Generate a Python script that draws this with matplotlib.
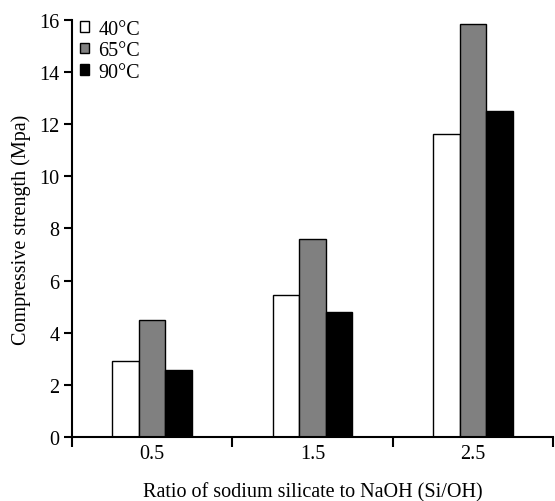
import matplotlib
matplotlib.use("Agg")
import matplotlib.pyplot as plt
import numpy as np

plt.rcParams["font.family"] = ["Liberation Serif", "DejaVu Serif"]

ratios = ["0.5", "1.5", "2.5"]
temps = ["40°C", "65°C", "90°C"]
strength_40 = [2.92, 5.45, 11.63]
strength_65 = [4.5, 7.6, 15.85]
strength_90 = [2.57, 4.8, 12.5]
colors = ["white", "#808080", "black"]

fs = 14.5

fig = plt.figure(figsize=(5.55, 5.02), dpi=100)
ax = fig.add_axes([0.1297, 0.1275, 0.8667, 0.8307])

x = np.arange(len(ratios))
width = 0.166
for i, (vals, lab, col) in enumerate(zip([strength_40, strength_65, strength_90], temps, colors)):
    ax.bar(x + (i - 1) * width, vals, width, color=col, edgecolor="black",
           linewidth=1.0, label=lab)

ax.set_xlim(-0.5, 2.5)
ax.set_ylim(0, 16)
ax.set_yticks(np.arange(0, 17, 2))
ax.set_xticks([-0.5, 0.5, 1.5, 2.5])
ax.set_xticklabels([])
ax.set_xticks(x, minor=True)
ax.set_xticklabels(ratios, minor=True)
ax.tick_params(axis="x", which="major", direction="out", length=7, width=1.5)
ax.tick_params(axis="x", which="minor", length=0, pad=5, labelsize=fs)
ax.tick_params(axis="y", direction="out", length=6, width=1.5, labelsize=fs, pad=3)

for side in ["top", "right"]:
    ax.spines[side].set_visible(False)
for side in ["left", "bottom"]:
    ax.spines[side].set_linewidth(1.5)

ax.set_xlabel("Ratio of sodium silicate to NaOH (Si/OH)", fontsize=fs, labelpad=14)
ax.set_ylabel("Compressive strength (Mpa)", fontsize=fs, labelpad=6)

ax.legend(loc="upper left", bbox_to_anchor=(0.0, 1.02), frameon=False, fontsize=fs,
          handlelength=0.45, handleheight=0.45, handletextpad=0.45, labelspacing=0.12,
          borderaxespad=0.0)

fig.savefig("out.png", dpi=100)
